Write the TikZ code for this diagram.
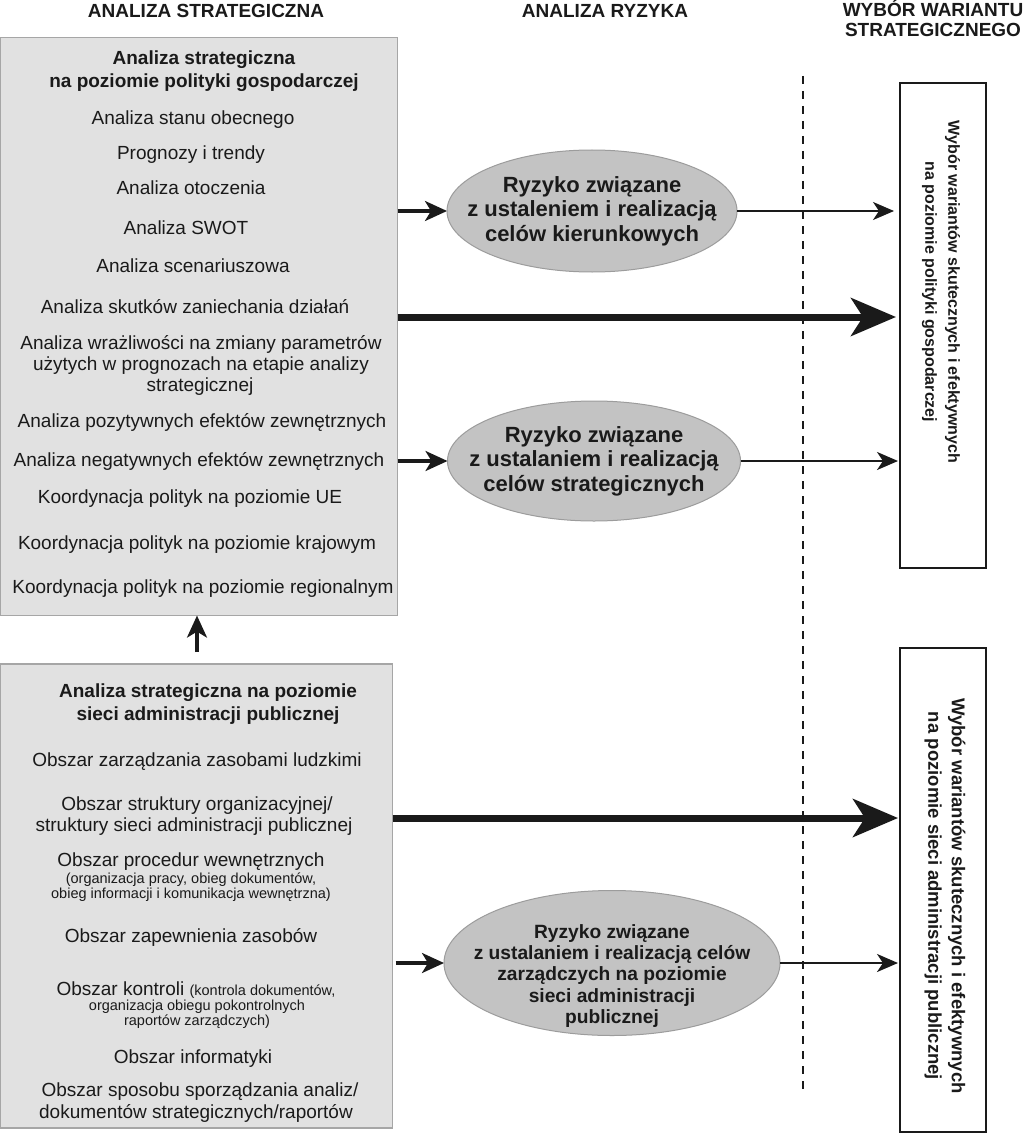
\documentclass[tikz,border=0pt]{standalone}
\usepackage{fontspec}
\setmainfont{Liberation Sans}
\usetikzlibrary{arrows.meta,shapes.geometric}
\definecolor{boxfill}{HTML}{E1E1E1}
\definecolor{boxline}{HTML}{A6A6A6}
\definecolor{ellfill}{HTML}{C3C3C3}
\definecolor{ellline}{HTML}{9C9C9C}
\definecolor{ink}{HTML}{1A1A1A}
\begin{document}
\begin{tikzpicture}[x=1pt,y=-1pt,
  every node/.style={inner sep=0pt, outer sep=0pt, text=ink},
  hdr/.style={font=\bfseries\fontsize{19}{20}\selectfont, anchor=base},
  lpanel/.style={draw=boxline, fill=boxfill, line width=1.2pt, anchor=north west},
  ttl/.style={font=\bfseries\fontsize{19}{21}\selectfont, anchor=base},
  itm/.style={font=\fontsize{19}{21}\selectfont, anchor=base},
  sm/.style={font=\fontsize{14.5}{15}\selectfont, anchor=base},
  risk/.style={ellipse, draw=ellline, fill=ellfill, line width=1pt},
  risktxt/.style={font=\bfseries\fontsize{22}{24.5}\selectfont, align=center},
  risktxtsm/.style={font=\bfseries\fontsize{19.2}{21.3}\selectfont, align=center},
  choice/.style={draw=ink, line width=1.8pt, fill=white, anchor=north west},
  choicetxt/.style={rotate=-90, align=center},
  inarr/.style={draw=ink, line width=3.2pt, -{Stealth[length=22pt,width=20pt,inset=6pt]}},
  outarr/.style={draw=ink, line width=2.4pt, -{Stealth[length=21pt,width=18pt,inset=6pt]}},
  bigarr/.style={draw=ink, line width=7pt, -{Stealth[length=45pt,width=38pt,inset=12pt]}},
  sepline/.style={draw=ink, line width=1.3pt, dash pattern=on 8pt off 7pt}
]
\useasboundingbox (0,0) rectangle (1024,1134);
\fill[white] (0,0) rectangle (1024,1134);

% headers
\node[hdr] (h1) at (206,18) {ANALIZA STRATEGICZNA};
\node[hdr] (h2) at (605,18) {ANALIZA RYZYKA};
\node[hdr] (h3a) at (933,17) {WYBÓR WARIANTU};
\node[hdr] (h3b) at (933,37) {STRATEGICZNEGO};

% left panels
\node[lpanel, minimum width=397pt, minimum height=578pt] (pol) at (0.6,37.6) {};
\node[lpanel, minimum width=392pt, minimum height=464pt] (adm) at (0.6,664) {};

% top panel texts
\node[ttl] (pa) at (204,65) {Analiza strategiczna};
\node[ttl] (pb) at (204,88) {na poziomie polityki gospodarczej};
\node[itm] (p1) at (193,125) {Analiza stanu obecnego};
\node[itm] (p2) at (191,160) {Prognozy i trendy};
\node[itm] (p3) at (191,194) {Analiza otoczenia};
\node[itm] (p4) at (186,234) {Analiza SWOT};
\node[itm] (p5) at (193,272) {Analiza scenariuszowa};
\node[itm] (p6) at (195,313) {Analiza skutków zaniechania działań};
\node[itm] (p7a) at (201,349) {Analiza wrażliwości na zmiany parametrów};
\node[itm] (p7b) at (201,370) {użytych w prognozach na etapie analizy};
\node[itm] (p7c) at (200,391) {strategicznej};
\node[itm] (p8) at (202,427) {Analiza pozytywnych efektów zewnętrznych};
\node[itm] (p9) at (199,466) {Analiza negatywnych efektów zewnętrznych};
\node[itm] (p10) at (190,503) {Koordynacja polityk na poziomie UE};
\node[itm] (p11) at (197,549) {Koordynacja polityk na poziomie krajowym};
\node[itm] (p12) at (203,593) {Koordynacja polityk na poziomie regionalnym};

% bottom panel texts
\node[ttl] (aa) at (208,697) {Analiza strategiczna na poziomie};
\node[ttl] (ab) at (208,720) {sieci administracji publicznej};
\node[itm] (a1) at (197,766) {Obszar zarządzania zasobami ludzkimi};
\node[itm] (a2a) at (197,810) {Obszar struktury organizacyjnej/};
\node[itm] (a2b) at (194,831) {struktury sieci administracji publicznej};
\node[itm] (a3a) at (191,866) {Obszar procedur wewnętrznych};
\node[sm] (a3b) at (191,883) {(organizacja pracy, obieg dokumentów,};
\node[sm] (a3c) at (191,898) {obieg informacji i komunikacja wewnętrzna)};
\node[itm] (a4) at (191,942) {Obszar zapewnienia zasobów};
\node[itm] (a5a) at (196,995) {Obszar kontroli {\fontsize{14.5}{15}\selectfont(kontrola dokumentów,}};
\node[sm] (a5b) at (197,1010) {organizacja obiegu pokontrolnych};
\node[sm] (a5c) at (197,1025) {raportów zarządczych)};
\node[itm] (a6) at (193,1063) {Obszar informatyki};
\node[itm] (a7a) at (200,1096) {Obszar sposobu sporządzania analiz/};
\node[itm] (a7b) at (196,1118) {dokumentów strategicznych/raportów};

% up arrow between panels
\coordinate (upfoot) at (197,652);
\draw[inarr] (upfoot) -- (upfoot |- pol.south);

% separator
\coordinate (dtop) at (803,76);
\coordinate (dbot) at (803,1092);
\draw[sepline] (dtop) -- (dbot);

% choice boxes
\node[choice, minimum width=86pt, minimum height=485pt] (c1) at (900,83) {};
\node[choice, minimum width=86pt, minimum height=484pt] (c2) at (900,648) {};
\node[choicetxt, font=\bfseries\fontsize{16}{23}\selectfont] (c1t) at (941,292)
  {Wybór wariantów skutecznych i efektywnych\\na poziomie polityki gospodarczej};
\node[choicetxt, font=\bfseries\fontsize{18.5}{23.5}\selectfont] (c2t) at (945,896)
  {Wybór wariantów skutecznych i efektywnych\\na poziomie sieci administracji publicznej};

% risk ellipses
\node[risk, minimum width=290pt, minimum height=122pt] (r1) at (592,211) {};
\node[risktxt] (r1t) at (592,211) {Ryzyko związane\\z ustaleniem i realizacją\\celów kierunkowych};
\node[risk, minimum width=293pt, minimum height=120pt] (r2) at (594,461) {};
\node[risktxt] (r2t) at (594,461) {Ryzyko związane\\z ustalaniem i realizacją\\celów strategicznych};
\node[risk, minimum width=336pt, minimum height=145pt] (r3) at (612,963) {};
\node[risktxtsm] (r3t) at (612,976) {Ryzyko związane\\z ustalaniem i realizacją celów\\zarządczych na poziomie\\sieci administracji\\publicznej};

% connectors
\draw[inarr] (pol.east |- r1.west) -- (r1.west);
\draw[outarr, shorten >=6pt] (r1.east) -- (c1.west |- r1.east);
\coordinate (big1) at (398,317);
\draw[bigarr, shorten >=4pt] (pol.east |- big1) -- (c1.west |- big1);
\draw[inarr] (pol.east |- r2.west) -- (r2.west);
\draw[outarr, shorten >=2pt] (r2.east) -- (c1.west |- r2.east);
\coordinate (big2) at (392,818);
\draw[bigarr, shorten >=2pt] (adm.east |- big2) -- (c2.west |- big2);
\draw[inarr] ([xshift=3pt]adm.east |- r3.west) -- (r3.west);
\draw[outarr, shorten >=2pt] (r3.east) -- (c2.west |- r3.east);
\end{tikzpicture}
\end{document}
